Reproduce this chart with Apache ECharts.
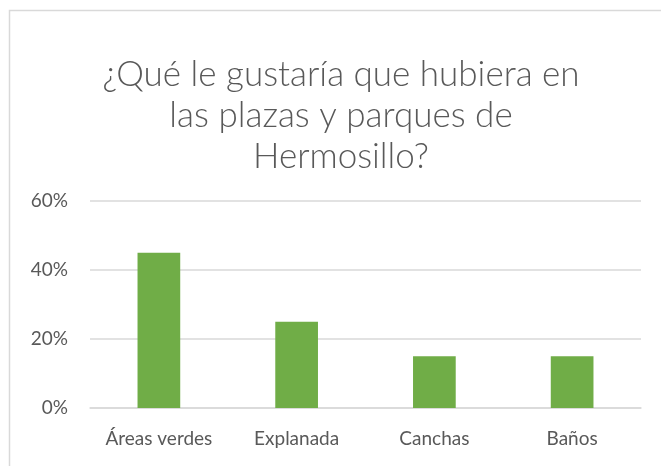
<!DOCTYPE html>
<html>
<head>
<meta charset="utf-8">
<script src="https://cdn.jsdelivr.net/npm/echarts@6/dist/echarts.min.js"></script>
<style>
  html, body { margin: 0; padding: 0; background: #fff; }
  #chart { width: 661px; height: 466px; }
</style>
</head>
<body>
<div id="chart"></div>
<script>
// datos
var categorias = ["Áreas verdes", "Explanada", "Canchas", "Baños"];
var valores = [45, 25, 15, 15];
var titulo = "¿Qué le gustaría que hubiera en\nlas plazas y parques de\nHermosillo?";

var chartDom = document.getElementById("chart");
var myChart = echarts.init(chartDom);

var option = {
  backgroundColor: "#ffffff",
  animation: false,
  textStyle: { fontFamily: "Lato, 'Open Sans', sans-serif" },
  title: {
    text: titulo,
    left: 336,
    top: 49,
    textAlign: "center",
    textStyle: {
      fontFamily: "Lato, 'Open Sans', sans-serif",
      fontSize: 35,
      fontWeight: 300,
      color: "#595959",
      lineHeight: 41,
    },
  },
  // marco del gráfico (solo borde izquierdo y superior visibles)
  graphic: [
    {
      type: "rect",
      shape: { x: 9.5, y: 10.5, width: 700, height: 500 },
      style: { fill: "none", stroke: "#d9d9d9", lineWidth: 1.5 },
      silent: true,
    },
  ],
  grid: {
    left: 90,
    right: 20,
    top: 201,
    bottom: 58,
  },
  xAxis: {
    type: "category",
    data: categorias,
    axisLine: { lineStyle: { color: "#d9d9d9", width: 1.5 } },
    axisTick: { show: false },
    axisLabel: {
      color: "#595959",
      fontSize: 19,
      margin: 21,
      interval: 0,
      hideOverlap: false,
    },
  },
  yAxis: {
    type: "value",
    min: 0,
    max: 60,
    interval: 20,
    axisLine: { show: false },
    axisTick: { show: false },
    splitLine: { lineStyle: { color: "#d9d9d9", width: 1.5 } },
    axisLabel: {
      color: "#595959",
      fontSize: 19,
      margin: 22,
      formatter: "{value}%",
    },
  },
  series: [
    {
      type: "bar",
      data: valores,
      barWidth: "31%",
      itemStyle: { color: "#70ad47" },
    },
  ],
};

option && myChart.setOption(option);
</script>
</body>
</html>
